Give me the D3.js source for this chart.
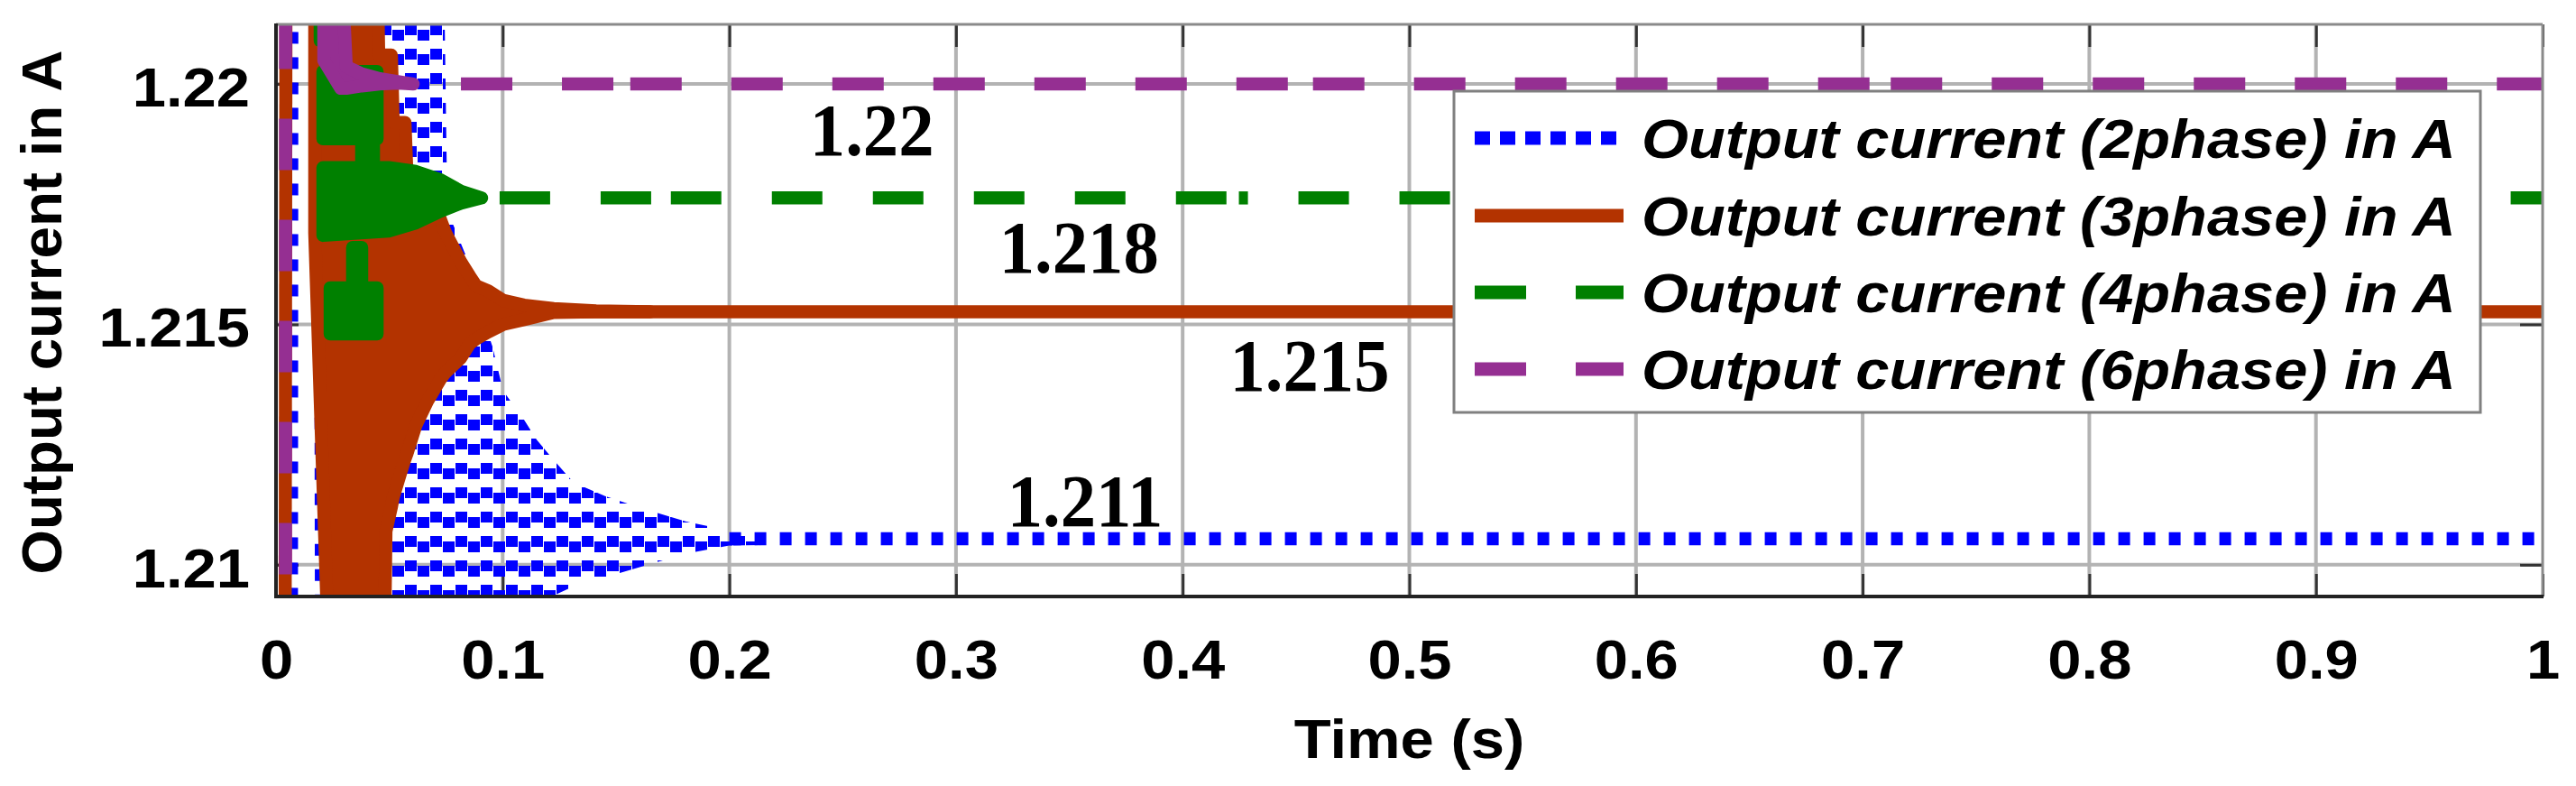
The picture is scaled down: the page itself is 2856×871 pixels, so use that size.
<!DOCTYPE html>
<html><head><meta charset="utf-8">
<script src="https://cdn.jsdelivr.net/npm/d3@7"></script>
<style>
html,body{margin:0;padding:0;background:#fff;}
svg{display:block;}
</style></head>
<body>
<svg id="chart" width="2856" height="871"></svg>
<script>
// ================= DATA =================
const xTicks = [0, 0.1, 0.2, 0.3, 0.4, 0.5, 0.6, 0.7, 0.8, 0.9, 1];
const xTickLabels = ["0", "0.1", "0.2", "0.3", "0.4", "0.5", "0.6", "0.7", "0.8", "0.9", "1"];
const yTicks = [1.21, 1.215, 1.22];
const yTickLabels = ["1.21", "1.215", "1.22"];
const xTitle = "Time (s)";
const yTitle = "Output current in A";
const seriesNames = [
  "Output current (2phase) in A",
  "Output current (3phase) in A",
  "Output current (4phase) in A",
  "Output current (6phase) in A"
];
// settled values
const steadyValues = [1.21054, 1.21526, 1.21763, 1.2200];

// annotations (text, time, value)
const annotationLabels = ["1.22", "1.218", "1.215", "1.211"];
const annotationT = [0.2355, 0.3190, 0.4208, 0.3226];
const annotationV = [1.21852, 1.21608, 1.21362, 1.21081];

// ---- 2 phase (blue) ----
const blueRiseT = [0.0068, 0.0070, 0.0195, 0.0201];
const blueRiseV = [1.2077, 1.2227, 1.2227, 1.2077];
const blueBandT  = [0.022, 0.074, 0.0756, 0.0855, 0.0895, 0.0955, 0.1002, 0.1094, 0.115, 0.1225, 0.1313, 0.1452, 0.1611, 0.1810, 0.2000, 0.2150];
const blueBandHi = [1.2227, 1.2227, 1.21737, 1.21623, 1.21537, 1.21454, 1.21362, 1.21302, 1.2126, 1.21218, 1.21171, 1.21143, 1.21118, 1.2109, 1.21071, 1.21068];
const blueBandLo = [1.2077, 1.2077, 1.2077, 1.2077, 1.2077, 1.2077, 1.2077, 1.2077, 1.2077, 1.20936, 1.20955, 1.20974, 1.20996, 1.21023, 1.2104, 1.21041];
const blueSegStart = [0.2000];
const blueSegEnd   = [1.0];

// ---- 3 phase (orange) ----
const orangeRiseT = [0.0040, 0.0044];
const orangeRiseV = [1.2077, 1.2227];
const orangeBandT  = [0.0171, 0.0235, 0.0446, 0.0453, 0.0477, 0.0485, 0.0509, 0.0517, 0.0549, 0.0569, 0.0577, 0.0617, 0.0668, 0.0724, 0.0748, 0.0815, 0.0855, 0.0883, 0.0935, 0.1002, 0.1094, 0.1225, 0.1412, 0.1651];
const orangeBandHi = [1.2227, 1.2227, 1.2227, 1.2206, 1.2206, 1.2206, 1.2206, 1.2192, 1.2192, 1.2192, 1.2182, 1.2180, 1.2176, 1.2172, 1.2169, 1.2163, 1.2160, 1.2158, 1.2157, 1.2155, 1.2154, 1.21533, 1.21528, 1.21526];
const orangeBandLo = [1.2169, 1.2077, 1.2077, 1.2077, 1.2077, 1.2107, 1.2112, 1.2114, 1.2119, 1.2122, 1.2123, 1.2129, 1.2134, 1.21385, 1.2140, 1.2143, 1.2146, 1.2147, 1.21484, 1.2150, 1.2151, 1.21525, 1.21526, 1.21526];
const orangeSegStart = [0.1225];
const orangeSegEnd   = [1.0];

// ---- 4 phase (green) ----
const greenBandAT  = [0.0207, 0.0378, 0.0378, 0.0430, 0.0430, 0.0446];
const greenBandAHi = [1.22026, 1.22026, 1.22026, 1.22026, 1.22026, 1.22026];
const greenBandALo = [1.21886, 1.21886, 1.2182, 1.2182, 1.21886, 1.21886];
const greenBandBT  = [0.0207, 0.0497, 0.0617, 0.0724, 0.0815, 0.0907];
const greenBandBHi = [1.21826, 1.21826, 1.21818, 1.21801, 1.21777, 1.21763];
const greenBandBLo = [1.21685, 1.21694, 1.21711, 1.21735, 1.21752, 1.21763];
const greenBandCT  = [0.0239, 0.0338, 0.0338, 0.0378, 0.0378, 0.0446];
const greenBandCHi = [1.21576, 1.21576, 1.2166, 1.2166, 1.21576, 1.21576];
const greenBandCLo = [1.2148, 1.2148, 1.2148, 1.2148, 1.2148, 1.2148];
const greenBandDT  = [0.0195, 0.0215];
const greenBandDHi = [1.2227, 1.2227];
const greenBandDLo = [1.2209, 1.2209];
const greenSegStart = [0.0907, 0.1742, 0.4248, 0.4288];
const greenSegEnd   = [0.1742, 0.4248, 0.4288, 1.0];

// ---- 6 phase (purple) ----
const purpleRiseT = [0.0042, 0.0042];
const purpleRiseV = [1.2077, 1.2227];
const purpleBandT  = [0.0211, 0.0286, 0.0310, 0.0378, 0.0457, 0.0537, 0.0605];
const purpleBandHi = [1.2227, 1.2227, 1.22036, 1.22021, 1.22011, 1.22005, 1.2200];
const purpleBandLo = [1.22049, 1.21991, 1.21991, 1.21996, 1.2200, 1.22002, 1.2200];
const purpleSegStart = [0.0605, 0.1563, 0.4575, 0.7124];
const purpleSegEnd   = [0.1563, 0.4575, 0.7124, 1.0];

// ================= STYLE / LAYOUT =================
const colors = ["#0000ff", "#b33300", "#008000", "#952f92"];
const lineW = 14.5;
const dashes = ["13,15", null, "56,56", "57,55"];
const legendDashes = ["17,11", null, "57,55", "57,55"];
const greenOffsets = [92, 0, 0, 56];
const purpleOffsets = [59, 0, 0, 0];
const sansFont = "'Liberation Sans', Arial, Helvetica, sans-serif";
const serifFont = "'Liberation Serif', 'Times New Roman', serif";
const plot = {left: 306, right: 2819, top: 27, bottom: 661};

const svg = d3.select("#chart");
svg.append("rect").attr("width", 2856).attr("height", 871).attr("fill", "#fff");

const x = d3.scaleLinear().domain([0, 1]).range([plot.left, plot.right]);
const y = d3.scaleLinear().domain([1.20934, 1.22124]).range([plot.bottom, plot.top]);

const defs = svg.append("defs");
defs.append("clipPath").attr("id", "plotclip").append("rect")
  .attr("x", plot.left + 1).attr("y", plot.top + 1)
  .attr("width", plot.right - plot.left - 2).attr("height", plot.bottom - plot.top - 3);
const pat = defs.append("pattern").attr("id", "blueMesh")
  .attr("patternUnits", "userSpaceOnUse").attr("width", 28).attr("height", 27);
pat.append("rect").attr("x", 1).attr("y", 0).attr("width", 13).attr("height", 12).attr("fill", colors[0]);
pat.append("rect").attr("x", 15).attr("y", 6).attr("width", 13).attr("height", 12).attr("fill", colors[0]);

function stretch(sel, f) {
  sel.each(function () {
    const w = this.getComputedTextLength();
    this.setAttribute("textLength", w * f);
    this.setAttribute("lengthAdjust", "spacingAndGlyphs");
  });
}

// ---------- grid ----------
const grid = svg.append("g");
grid.selectAll("line.vg").data(xTicks.slice(1, -1)).enter().append("line")
  .attr("x1", d => x(d)).attr("x2", d => x(d)).attr("y1", plot.top).attr("y2", plot.bottom)
  .attr("stroke", "#b3b3b3").attr("stroke-width", 4);
grid.selectAll("line.hg").data(yTicks).enter().append("line")
  .attr("y1", d => y(d)).attr("y2", d => y(d)).attr("x1", plot.left).attr("x2", plot.right)
  .attr("stroke", "#b3b3b3").attr("stroke-width", 4);

// ---------- axes (ticks & labels) ----------
function styleAxis(g) {
  g.select(".domain").attr("stroke", "none");
  g.selectAll(".tick line").attr("stroke", "#333").attr("stroke-width", 3);
  g.selectAll(".tick text").attr("fill", "#000").attr("font-family", sansFont)
    .attr("font-weight", "bold").attr("font-size", 62);
}
const gx = svg.append("g").attr("transform", `translate(0,${plot.bottom})`)
  .call(d3.axisBottom(x).tickValues(xTicks).tickFormat((d, i) => xTickLabels[i])
    .tickSizeInner(-25).tickSizeOuter(0).tickPadding(47));
styleAxis(gx);
const gy = svg.append("g").attr("transform", `translate(${plot.left},0)`)
  .call(d3.axisLeft(y).tickValues(yTicks).tickFormat((d, i) => yTickLabels[i])
    .tickSizeInner(-25).tickSizeOuter(0).tickPadding(29));
styleAxis(gy);
gy.selectAll(".tick text").attr("dy", "0.39em");
const gt = svg.append("g").attr("transform", `translate(0,${plot.top})`)
  .call(d3.axisTop(x).tickValues(xTicks).tickFormat("").tickSizeInner(-25).tickSizeOuter(0));
styleAxis(gt);
const gr = svg.append("g").attr("transform", `translate(${plot.right},0)`)
  .call(d3.axisRight(y).tickValues(yTicks).tickFormat("").tickSizeInner(-25).tickSizeOuter(0));
styleAxis(gr);
stretch(gx.selectAll(".tick text"), 1.08);
stretch(gy.selectAll(".tick text"), 1.08);

// ---------- series ----------
const data = svg.append("g").attr("clip-path", "url(#plotclip)");
const line = d3.line().x(d => x(d[0])).y(d => y(d[1]));
const area = d3.area().x(d => x(d[0])).y0(d => y(d[2])).y1(d => y(d[1]));

function drawBand(t, hi, lo, color, fill) {
  data.append("path").datum(d3.zip(t, hi, lo)).attr("d", area)
    .attr("fill", fill || color)
    .attr("stroke", fill ? "none" : color).attr("stroke-width", fill ? 0 : lineW)
    .attr("stroke-linejoin", "round");
}
function drawLine(t, v, color, dash, offset) {
  data.append("path").datum(d3.zip(t, v)).attr("d", line)
    .attr("fill", "none").attr("stroke", color).attr("stroke-width", lineW)
    .attr("stroke-dasharray", dash).attr("stroke-dashoffset", offset || 0)
    .attr("stroke-linecap", "butt");
}
function drawSteady(starts, ends, value, color, dash, offsets) {
  starts.forEach((s, i) => drawLine([s, ends[i]], [value, value], color, dash, offsets ? offsets[i] : 0));
}

// 2 phase
drawLine(blueRiseT, blueRiseV, colors[0], dashes[0]);
drawBand(blueBandT, blueBandHi, blueBandLo, colors[0], "url(#blueMesh)");
drawSteady(blueSegStart, blueSegEnd, steadyValues[0], colors[0], dashes[0]);
// 3 phase
drawLine(orangeRiseT, orangeRiseV, colors[1], null);
drawBand(orangeBandT, orangeBandHi, orangeBandLo, colors[1]);
drawSteady(orangeSegStart, orangeSegEnd, steadyValues[1], colors[1], null);
// 4 phase
drawBand(greenBandAT, greenBandAHi, greenBandALo, colors[2]);
drawBand(greenBandBT, greenBandBHi, greenBandBLo, colors[2]);
drawBand(greenBandCT, greenBandCHi, greenBandCLo, colors[2]);
drawBand(greenBandDT, greenBandDHi, greenBandDLo, colors[2]);
drawSteady(greenSegStart, greenSegEnd, steadyValues[2], colors[2], dashes[2], greenOffsets);
// 6 phase
drawLine(purpleRiseT, purpleRiseV, colors[3], dashes[3]);
drawBand(purpleBandT, purpleBandHi, purpleBandLo, colors[3]);
drawSteady(purpleSegStart, purpleSegEnd, steadyValues[3], colors[3], dashes[3], purpleOffsets);

// ---------- frame ----------
const frame = svg.append("g");
frame.append("line").attr("x1", plot.left).attr("x2", plot.right).attr("y1", plot.top).attr("y2", plot.top)
  .attr("stroke", "#8a8a8a").attr("stroke-width", 3);
frame.append("line").attr("x1", plot.right).attr("x2", plot.right).attr("y1", plot.top).attr("y2", plot.bottom)
  .attr("stroke", "#8a8a8a").attr("stroke-width", 3);
frame.append("line").attr("x1", plot.left - 1.5).attr("x2", plot.right + 1).attr("y1", plot.bottom).attr("y2", plot.bottom)
  .attr("stroke", "#222").attr("stroke-width", 4);
frame.append("line").attr("x1", plot.left).attr("x2", plot.left).attr("y1", plot.top - 1).attr("y2", plot.bottom + 2)
  .attr("stroke", "#222").attr("stroke-width", 4);

// ---------- annotations ----------
const ann = svg.append("g").selectAll("text").data(annotationLabels).enter().append("text")
  .attr("x", (d, i) => x(annotationT[i])).attr("y", (d, i) => y(annotationV[i]))
  .attr("font-family", serifFont).attr("font-weight", "bold").attr("font-size", 82)
  .attr("fill", "#000").text(d => d);
stretch(ann, 0.96);

// ---------- axis titles ----------
const xt = svg.append("text").attr("x", (plot.left + plot.right) / 2).attr("y", 840)
  .attr("text-anchor", "middle").attr("font-family", sansFont).attr("font-weight", "bold")
  .attr("font-size", 62).text(xTitle);
stretch(xt, 1.08);
const yt = svg.append("text").attr("transform", "translate(68,346) rotate(-90)")
  .attr("text-anchor", "middle").attr("font-family", sansFont).attr("font-weight", "bold")
  .attr("font-size", 63).text(yTitle);
stretch(yt, 1.01);

// ---------- legend ----------
const lg = svg.append("g");
lg.append("rect").attr("x", 1612).attr("y", 101).attr("width", 1138).attr("height", 356)
  .attr("fill", "#fff").attr("stroke", "#808080").attr("stroke-width", 3);
const rowY = [153, 239, 324, 409];
seriesNames.forEach((name, i) => {
  lg.append("line").attr("x1", 1635).attr("x2", 1800).attr("y1", rowY[i]).attr("y2", rowY[i])
    .attr("stroke", colors[i]).attr("stroke-width", 15)
    .attr("stroke-dasharray", legendDashes[i]);
  const t = lg.append("text").attr("x", 1820).attr("y", rowY[i] + 22)
    .attr("font-family", sansFont).attr("font-weight", "bold").attr("font-style", "italic")
    .attr("font-size", 62).attr("fill", "#000").text(name);
  stretch(t, 1.077);
});
</script>
</body></html>
